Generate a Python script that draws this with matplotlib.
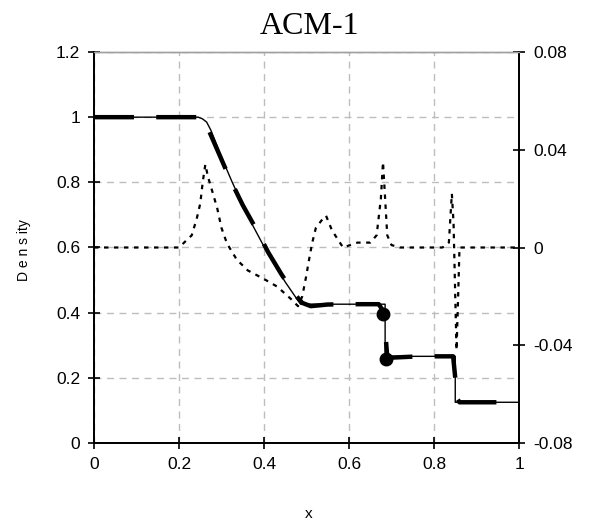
import numpy as np
from matplotlib import pyplot as plt

# exact solution
x_ex = [0, 0.245, 0.255, 0.265, 0.275, 0.3, 0.325, 0.35, 0.375, 0.4, 0.425, 0.45, 0.47, 0.486, 0.685, 0.685, 0.85, 0.85, 1.0]
rho_ex = [1.0, 1.0, 0.995, 0.985, 0.96, 0.877, 0.801, 0.730, 0.664, 0.603, 0.547, 0.494, 0.456, 0.426, 0.426, 0.266, 0.266, 0.125, 0.125]

# numerical solution
x_num = [0, 0.25, 0.26, 0.27, 0.29, 0.32, 0.35, 0.38, 0.41, 0.44, 0.47, 0.49, 0.51, 0.55, 0.60, 0.67,
         0.678, 0.682, 0.686, 0.69, 0.70, 0.75, 0.80, 0.845, 0.85, 0.855, 0.86, 0.90, 1.0]
rho_num = [1.0, 1.0, 0.99, 0.96, 0.90, 0.81, 0.73, 0.66, 0.585, 0.52, 0.46, 0.43, 0.42, 0.425, 0.426, 0.426,
           0.41, 0.39, 0.33, 0.265, 0.262, 0.265, 0.266, 0.266, 0.2, 0.135, 0.125, 0.125, 0.125]

# contact points
x_dot = [0.68, 0.686]
rho_dot = [0.395, 0.258]

# error (right axis)
x_err = [0, 0.2, 0.23, 0.242, 0.25, 0.256, 0.262, 0.268, 0.28, 0.29, 0.30, 0.313, 0.336, 0.362, 0.398,
         0.431, 0.463, 0.48, 0.49, 0.499, 0.506, 0.513, 0.522, 0.535, 0.546, 0.56, 0.586, 0.62, 0.65,
         0.665, 0.675, 0.68, 0.685, 0.69, 0.70, 0.72, 0.78, 0.82, 0.835, 0.842, 0.846, 0.85, 0.853,
         0.856, 0.86, 0.87, 1.0]
err = [0, 0, 0.005, 0.012, 0.018, 0.027, 0.034, 0.029, 0.022, 0.016, 0.008, 0.0016, -0.005, -0.0094,
       -0.0127, -0.016, -0.021, -0.024, -0.02, -0.012, -0.005, 0.0016, 0.008, 0.011, 0.013, 0.007, 0,
       0.002, 0.002, 0.005, 0.02, 0.035, 0.02, 0.005, 0.001, 0, 0, 0, 0.002, 0.022, 0.01, -0.02, -0.042,
       -0.025, 0, 0, 0]

xticks = [0, 0.2, 0.4, 0.6, 0.8, 1]
yticks = [0, 0.2, 0.4, 0.6, 0.8, 1, 1.2]
y2ticks = [-0.08, -0.04, 0, 0.04, 0.08]

plt.rcParams['font.family'] = ['Liberation Sans', 'DejaVu Sans']

fig = plt.figure(figsize=(5.9, 5.25), dpi=100)
ax = fig.add_axes([94 / 590, 1 - 443 / 525, 425 / 590, 391 / 525])
ax2 = ax.twinx()

ax.plot(x_ex, rho_ex, color='k', lw=1)
ax.plot(x_num, rho_num, color='k', lw=3.2, linestyle=(0, (9, 5)))
ax.plot(x_dot, rho_dot, 'o', color='k', markersize=9)
ax2.plot(x_err, err, color='k', lw=1.6, linestyle=(0, (2, 2.5)))

ax.set_xlim(0, 1)
ax.set_ylim(0, 1.2)
ax2.set_ylim(-0.08, 0.08)
ax.set_xticks(xticks)
ax.set_xticklabels(['{:g}'.format(v) for v in xticks])
ax.set_yticks(yticks)
ax.set_yticklabels(['{:g}'.format(v) for v in yticks])
ax2.set_yticks(y2ticks)
ax2.set_yticklabels(['{:g}'.format(v) for v in y2ticks])

ax.grid(True, color='#bdbdbd', linestyle=(0, (5, 4)), lw=1)
ax.set_axisbelow(True)
for a in (ax, ax2):
    a.tick_params(direction='inout', length=8, width=1.2, labelsize=12.5, pad=6)
    for s in a.spines.values():
        s.set_linewidth(1.3)
    a.spines['top'].set_color('#a0a0a0')
    a.spines['top'].set_linewidth(1)

fig.text(310 / 590, 1 - 26 / 525, 'ACM-1', family=['Liberation Serif', 'DejaVu Serif'],
         fontsize=23, ha='center', va='center')
fig.text(309 / 590, 1 - 514 / 525, 'x', fontsize=11, ha='center', va='center')
fig.text(24 / 590, 1 - 250 / 525, 'D e n s ity', fontsize=10, rotation=90, ha='center', va='center')

plt.savefig('out.png', dpi=100)
